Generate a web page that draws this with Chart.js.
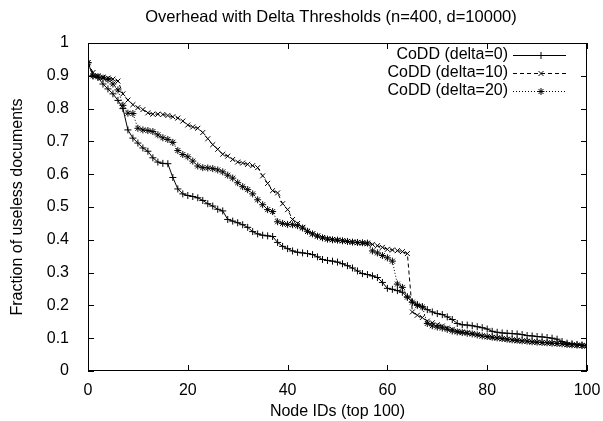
<!DOCTYPE html>
<html>
<head>
<meta charset="utf-8">
<script src="https://cdn.jsdelivr.net/npm/chart.js@4.4.1/dist/chart.umd.min.js"></script>
<style>
  html, body { margin: 0; padding: 0; background: #fff; }
  canvas { display: block; }
</style>
</head>
<body>
<canvas id="chart-overhead" width="603" height="421"></canvas>
<script>
// x positions: node ids 0..100
const NODE_IDS = Array.from({ length: 101 }, (_, i) => i);

const DELTA_0 = [
  0.94, 0.90, 0.895, 0.875, 0.86, 0.845, 0.825, 0.80, 0.735, 0.71,
  0.695, 0.68, 0.67, 0.65, 0.637, 0.633, 0.632, 0.59, 0.555, 0.54,
  0.535, 0.532, 0.528, 0.52, 0.51, 0.503, 0.493, 0.488, 0.462, 0.457,
  0.452, 0.446, 0.438, 0.425, 0.418, 0.414, 0.412, 0.41, 0.392, 0.38,
  0.373, 0.366, 0.362, 0.36, 0.358, 0.355, 0.348, 0.34, 0.337, 0.335,
  0.332, 0.327, 0.321, 0.314, 0.305, 0.297, 0.294, 0.29, 0.285, 0.27,
  0.252, 0.249, 0.245, 0.24, 0.226, 0.21, 0.203, 0.196, 0.187, 0.18,
  0.175, 0.172, 0.165, 0.157, 0.145, 0.141, 0.14, 0.138, 0.135, 0.132,
  0.128, 0.121, 0.118, 0.116, 0.115, 0.114, 0.113, 0.111, 0.108, 0.107,
  0.105, 0.104, 0.102, 0.10, 0.097, 0.09, 0.085, 0.083, 0.081, 0.079,
  0.077
];

const DELTA_10 = [
  0.94, 0.91, 0.90, 0.896, 0.893, 0.89, 0.884, 0.845, 0.826, 0.812,
  0.803, 0.797, 0.787, 0.783, 0.783, 0.782, 0.779, 0.775, 0.771, 0.762,
  0.75, 0.744, 0.74, 0.727, 0.708, 0.69, 0.676, 0.661, 0.655, 0.645,
  0.637, 0.634, 0.63, 0.626, 0.62, 0.595, 0.572, 0.55, 0.543, 0.51,
  0.492, 0.462, 0.45, 0.438, 0.426, 0.418, 0.412, 0.407, 0.403, 0.401,
  0.399, 0.397, 0.395, 0.393, 0.391, 0.39, 0.388, 0.386, 0.382, 0.377,
  0.371, 0.369, 0.367, 0.364, 0.358, 0.18, 0.17, 0.163, 0.152, 0.147,
  0.141, 0.137, 0.131, 0.127, 0.121, 0.119, 0.117, 0.114, 0.111, 0.107,
  0.104, 0.102, 0.10, 0.098, 0.096, 0.094, 0.092, 0.091, 0.09, 0.088,
  0.087, 0.086, 0.085, 0.084, 0.083, 0.082, 0.08, 0.079, 0.078, 0.077,
  0.076
];

const DELTA_20 = [
  0.94, 0.90, 0.897, 0.893, 0.888, 0.875, 0.857, 0.81, 0.786, 0.785,
  0.74, 0.735, 0.733, 0.73, 0.72, 0.711, 0.706, 0.697, 0.672, 0.66,
  0.653, 0.64, 0.625, 0.62, 0.619, 0.617, 0.613, 0.607, 0.597, 0.588,
  0.574, 0.562, 0.553, 0.54, 0.522, 0.507, 0.492, 0.486, 0.455, 0.45,
  0.447, 0.446, 0.443, 0.436, 0.426, 0.418, 0.411, 0.406, 0.402, 0.40,
  0.399, 0.397, 0.395, 0.393, 0.392, 0.391, 0.39, 0.366, 0.36, 0.352,
  0.345, 0.335, 0.265, 0.255, 0.225, 0.21, 0.20, 0.195, 0.145, 0.138,
  0.134, 0.131, 0.127, 0.122, 0.119, 0.117, 0.115, 0.113, 0.11, 0.107,
  0.105, 0.103, 0.101, 0.099, 0.097, 0.095, 0.094, 0.092, 0.091, 0.089,
  0.088, 0.087, 0.086, 0.085, 0.084, 0.083, 0.081, 0.08, 0.079, 0.078,
  0.077
];

const SERIES_LABELS = ['CoDD (delta=0)', 'CoDD (delta=10)', 'CoDD (delta=20)'];
const X_TICKS = ['0', '20', '40', '60', '80', '100'];
const Y_TICKS = ['0', '0.1', '0.2', '0.3', '0.4', '0.5', '0.6', '0.7', '0.8', '0.9', '1'];

const FONT = "'Liberation Sans', Arial, sans-serif";
const FSIZE = 16;
const INK = '#000';

const toPoints = (ys) => NODE_IDS.map((x, i) => ({ x, y: ys[i] }));

// gnuplot look: frame, inward mirrored ticks, title and inset legend
const gnuplotFrame = {
  id: 'gnuplotFrame',
  afterDraw(chart) {
    const { ctx, chartArea: a, scales } = chart;
    const TL = 6;
    ctx.save();
    ctx.strokeStyle = INK;
    ctx.lineWidth = 1;
    ctx.setLineDash([]);
    ctx.strokeRect(a.left + 0.5, a.top + 0.5, a.right - a.left - 1, a.bottom - a.top - 1);

    ctx.beginPath();
    scales.y.ticks.forEach((t) => {
      const y = Math.round(scales.y.getPixelForValue(t.value)) + 0.5;
      ctx.moveTo(a.left, y); ctx.lineTo(a.left + TL, y);
      ctx.moveTo(a.right, y); ctx.lineTo(a.right - TL, y);
    });
    scales.x.ticks.forEach((t) => {
      const x = Math.round(scales.x.getPixelForValue(t.value)) + 0.5;
      ctx.moveTo(x, a.bottom); ctx.lineTo(x, a.bottom - TL);
      ctx.moveTo(x, a.top); ctx.lineTo(x, a.top + TL);
    });
    ctx.stroke();

    ctx.fillStyle = INK;
    ctx.font = '16.5px ' + FONT;
    ctx.textAlign = 'center';
    ctx.textBaseline = 'middle';
    ctx.fillText('Overhead with Delta Thresholds (n=400, d=10000)', 331, 17);

    // legend
    ctx.font = FSIZE + 'px ' + FONT;
    ctx.textAlign = 'right';
    chart.data.datasets.forEach((ds, i) => {
      const y = 55 + i * 18;
      ctx.fillText(ds.label, 508, y);
      ctx.beginPath();
      ctx.setLineDash(ds.borderDash || []);
      ctx.moveTo(513, y + 0.5); ctx.lineTo(566, y + 0.5);
      ctx.stroke();
      ctx.setLineDash([]);
      Chart.helpers.drawPoint(ctx, { pointStyle: ds.pointStyle, radius: ds.pointRadius, borderWidth: 1, rotation: 0 }, 541, y + 0.5);
    });
    ctx.restore();
  }
};

const common = { borderColor: INK, backgroundColor: INK, pointBorderColor: INK, borderWidth: 1, pointBorderWidth: 1, pointRadius: 3.5, tension: 0 };

new Chart(document.getElementById('chart-overhead'), {
  type: 'line',
  data: {
    datasets: [
      { ...common, label: SERIES_LABELS[0], data: toPoints(DELTA_0),  pointStyle: 'cross' },
      { ...common, label: SERIES_LABELS[1], data: toPoints(DELTA_10), pointStyle: 'crossRot', borderDash: [4, 3] },
      { ...common, label: SERIES_LABELS[2], data: toPoints(DELTA_20), pointStyle: 'star', borderDash: [1, 2] }
    ]
  },
  options: {
    responsive: false,
    animation: false,
    devicePixelRatio: 1,
    layout: { padding: { left: 0, top: 43, right: 16, bottom: 0 } },
    plugins: { legend: { display: false }, title: { display: false }, tooltip: { enabled: false } },
    scales: {
      x: {
        type: 'linear', min: 0, max: 100,
        grid: { display: false }, border: { display: false },
        ticks: { stepSize: 20, padding: 2, color: INK, font: { family: FONT, size: FSIZE }, maxRotation: 0,
          callback: (v, i) => X_TICKS[i] },
        title: { display: true, text: 'Node IDs (top 100)', color: INK, font: { family: FONT, size: FSIZE }, padding: { top: 0, bottom: 0 } },
        afterFit: (s) => { s.height = 50; }
      },
      y: {
        min: 0, max: 1,
        grid: { display: false }, border: { display: false },
        ticks: { stepSize: 0.1, padding: 11, color: INK, font: { family: FONT, size: FSIZE },
          callback: (v, i) => Y_TICKS[i] },
        title: { display: true, text: 'Fraction of useless documents', color: INK, font: { family: FONT, size: FSIZE }, padding: { top: 8, bottom: 0 } },
        afterFit: (s) => { s.width = 88; }
      }
    }
  },
  plugins: [gnuplotFrame]
});
</script>
</body>
</html>
